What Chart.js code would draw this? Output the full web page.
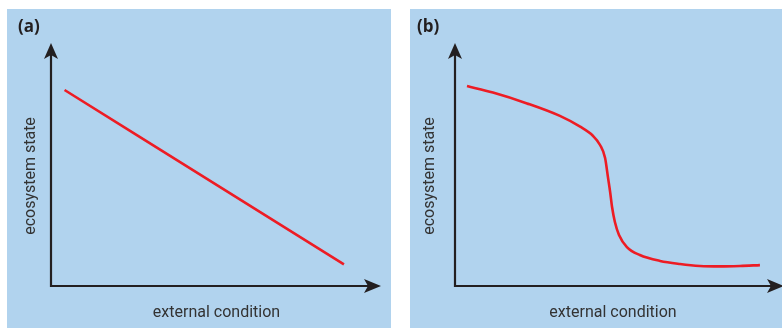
<!DOCTYPE html>
<html>
<head>
<meta charset="utf-8">
<script src="https://cdn.jsdelivr.net/npm/chart.js@4.4.0/dist/chart.umd.min.js"></script>
<style>
  html, body { margin: 0; padding: 0; background: #fff; }
  .panel { position: absolute; top: 9px; background: #b1d3ee; }
  #panelA { left: 7px; width: 384px; height: 319px; }
  #panelB { left: 410px; width: 372px; height: 319px; }
  canvas { display: block; }
</style>
</head>
<body>
<div class="panel" id="panelA"><canvas id="chartA" width="384" height="319"></canvas></div>
<div class="panel" id="panelB"><canvas id="chartB" width="372" height="319"></canvas></div>
<script>
// schematic values, both axes run 0..100 (no units)
const panelLabels = ['(a)', '(b)'];
const xTitle = 'external condition';
const yTitle = 'ecosystem state';

// (a) linear decline
const linearX = [4.1, 88.5];
const linearY = [89.1, 9.8];

// (b) abrupt shift
const shiftX = [3.8, 12.0, 22.8, 33.2, 39.6, 43.7, 45.9, 47.5, 48.4, 49.1, 49.7,
                50.6, 51.9, 54.4, 58.5, 64.9, 71.2, 77.5, 83.9, 90.2, 96.5];
const shiftY = [90.9, 87.9, 83.0, 77.3, 72.4, 68.2, 64.1, 58.2, 49.5, 42.7, 35.9,
                29.1, 23.2, 17.7, 14.1, 11.4, 10.0, 9.1, 8.9, 9.1, 9.5];

const AXIS_COLOR = '#231f20';
const LINE_COLOR = '#ed1c24';

// draws the two axis lines with notched arrow heads
const arrowAxes = {
    id: 'arrowAxes',
    afterDraw(chart, args, opts) {
        const { ctx, chartArea } = chart;
        const x0 = chartArea.left, y0 = chartArea.bottom;
        const yTip = chartArea.top - opts.topExtra;
        const xTip = chartArea.right + opts.rightExtra;
        ctx.save();
        ctx.strokeStyle = AXIS_COLOR;
        ctx.fillStyle = AXIS_COLOR;
        ctx.lineWidth = 2.2;
        ctx.beginPath();
        ctx.moveTo(x0, yTip + 8);
        ctx.lineTo(x0, y0);
        ctx.lineTo(xTip - 8, y0);
        ctx.stroke();
        // y arrow head
        ctx.beginPath();
        ctx.moveTo(x0, yTip);
        ctx.lineTo(x0 + 7, yTip + 16);
        ctx.lineTo(x0, yTip + 12);
        ctx.lineTo(x0 - 7, yTip + 16);
        ctx.closePath();
        ctx.fill();
        // x arrow head
        ctx.beginPath();
        ctx.moveTo(xTip, y0);
        ctx.lineTo(xTip - 17, y0 - 7);
        ctx.lineTo(xTip - 13, y0);
        ctx.lineTo(xTip - 17, y0 + 7);
        ctx.closePath();
        ctx.fill();
        ctx.restore();
    }
};

function makePanel(canvasId, label, xs, ys, padLeft, yAxisWidth, rightPad, rightExtra) {
    const pts = xs.map((x, i) => ({ x: x, y: ys[i] }));
    return new Chart(document.getElementById(canvasId), {
        type: 'line',
        data: {
            datasets: [{
                data: pts,
                borderColor: LINE_COLOR,
                borderWidth: 2.6,
                pointRadius: 0,
                fill: false,
                cubicInterpolationMode: 'monotone'
            }]
        },
        options: {
            responsive: false,
            animation: false,
            layout: { padding: { left: padLeft, right: rightPad, top: 0, bottom: 0 } },
            plugins: {
                legend: { display: false },
                tooltip: { enabled: false },
                title: {
                    display: true,
                    text: label,
                    align: 'start',
                    color: AXIS_COLOR,
                    font: { family: 'Open Sans', size: 17, weight: 'bold', lineHeight: 1.2 },
                    padding: { top: 8, bottom: 28.6 }
                },
                arrowAxes: { topExtra: 23, rightExtra: rightExtra }
            },
            scales: {
                x: {
                    type: 'linear',
                    min: 0,
                    max: 100,
                    grid: { display: false },
                    border: { display: false },
                    ticks: { display: false },
                    title: {
                        display: true,
                        text: xTitle,
                        color: '#333',
                        font: { family: 'Roboto', size: 16, lineHeight: 1.2 },
                        padding: { top: 0, bottom: 5 }
                    },
                    afterFit(scale) { scale.height = 42; }
                },
                y: {
                    type: 'linear',
                    min: 0,
                    max: 100,
                    grid: { display: false },
                    border: { display: false },
                    ticks: { display: false },
                    title: {
                        display: true,
                        text: yTitle,
                        color: '#333',
                        font: { family: 'Roboto', size: 16, lineHeight: 1.2 },
                        padding: { top: 3, bottom: 0 }
                    },
                    afterFit(scale) { scale.width = yAxisWidth; }
                }
            }
        },
        plugins: [arrowAxes]
    });
}

makePanel('chartA', panelLabels[0], linearX, linearY, 11, 33, 9, -1);
makePanel('chartB', panelLabels[1], shiftX, shiftY, 7, 38, 11, 13);
</script>
</body>
</html>
